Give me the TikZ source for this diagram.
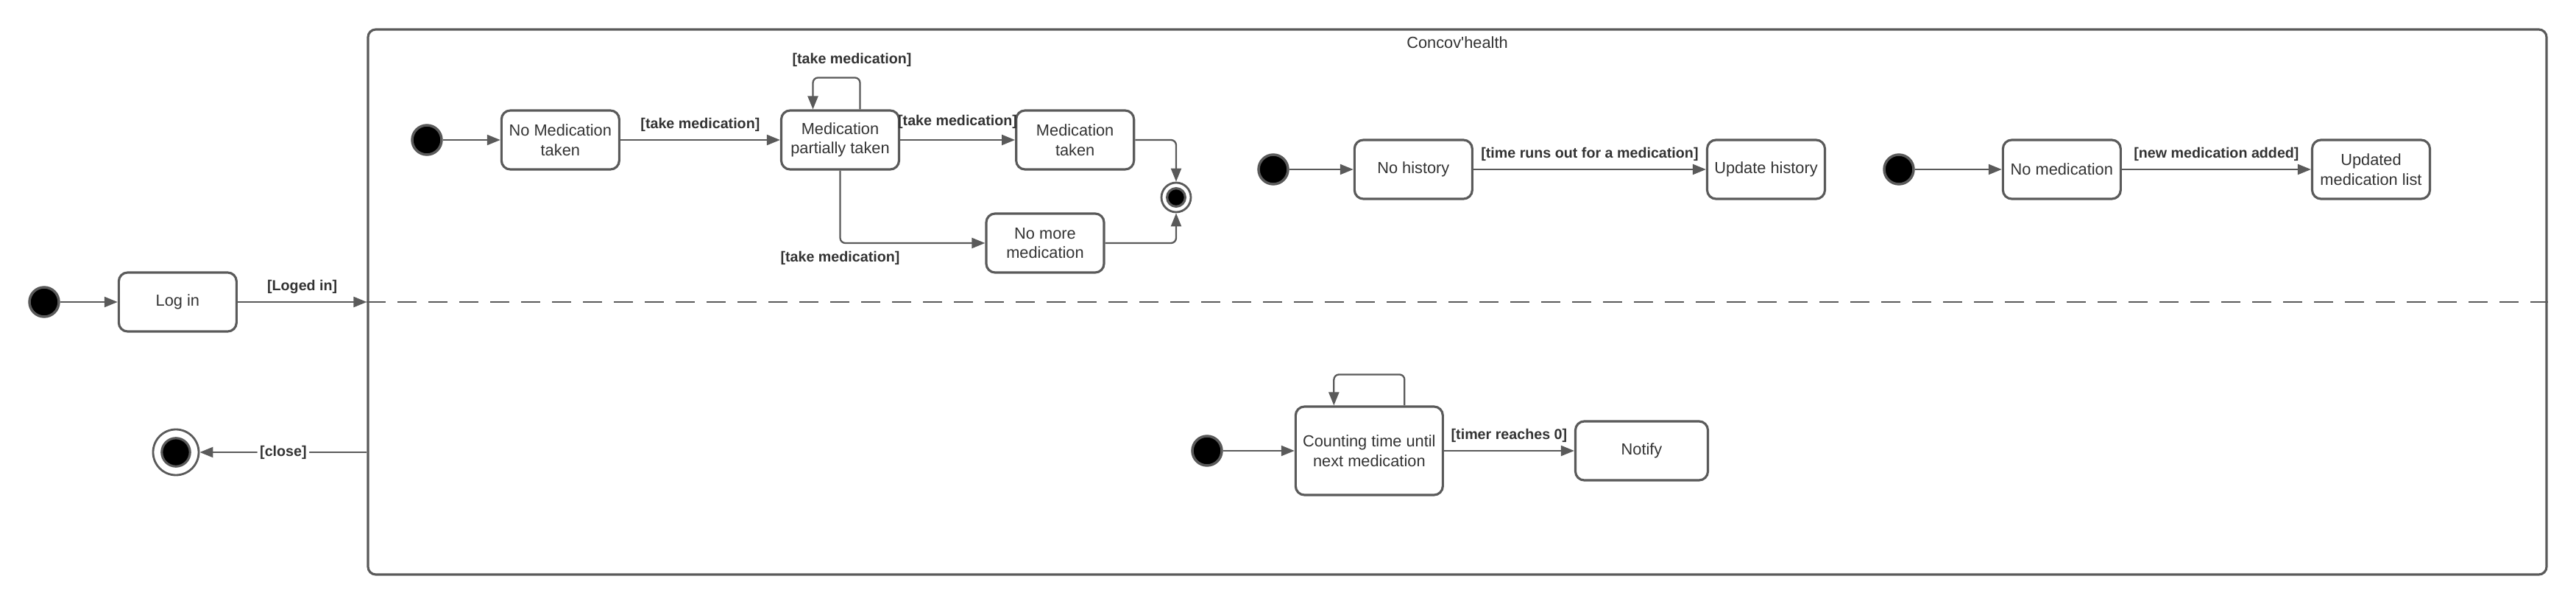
\documentclass[tikz,border=0pt]{standalone}
\usepackage{fontspec}
\setmainfont{Liberation Sans}
\usetikzlibrary{arrows.meta,positioning}
\definecolor{CHLine}{HTML}{5A5A5A}
\definecolor{CHText}{HTML}{333333}
\newcommand{\statefont}{\fontsize{6.2}{7.6}\selectfont}
\newcommand{\guardfont}{\fontsize{5.6}{6.6}\selectfont\bfseries}

\begin{document}
\begin{tikzpicture}[
  x=1cm,y=-1cm,
  state/.style={rounded corners=0.12cm,draw=CHLine,fill=white,line width=0.9pt,minimum width=1.6cm,minimum height=0.8cm,inner sep=1pt,align=center,text=CHText,font=\statefont},
  init/.style={circle,fill=black,draw=CHLine,line width=1pt,minimum size=0.4cm,inner sep=0pt},
  final/.style={circle,draw=CHLine,fill=white,line width=0.8pt,minimum size=#1,inner sep=0pt,path picture={\filldraw[fill=black,draw=CHLine,line width=0.9pt] (path picture bounding box.center) circle (0.31*#1);}},
  sysframe/.style={rounded corners=3pt,draw=CHLine,line width=0.9pt,minimum width=29.6cm,minimum height=7.4cm,inner sep=0pt},
  guard/.style={text=CHText,font=\guardfont,inner sep=1pt},
  arrow/.style={-{Triangle[length=0.18cm,width=0.14cm]},draw=CHLine,line width=0.65pt,rounded corners=2pt}
]
\useasboundingbox (0,0) rectangle (35,8.2);
\node[sysframe] (sys) at (19.8,4.1) {};
\node[font=\statefont,text=CHText] (title) at (19.8,0.58) {Concov\textquotesingle health};
\node[init] (start) at (0.6,4.1) {};
\node[state,right=0.78cm of start] (login) {Log in};
\node[final=0.62cm] (stop) at (2.39,6.14) {};
\draw[arrow] (start) -- (login);
\draw[arrow] (login) -- (login -| sys.west) node[guard,midway,above=2pt] {[Loged in]};
\draw[CHLine,line width=0.8pt,dash pattern=on 0.26cm off 0.16cm] (login -| sys.west) -- (login -| sys.east);
\draw[arrow] (sys.west |- stop) -- (stop) node[guard,midway,fill=white] {[close]};

\node[init] (i1) at (5.8,1.9) {};
\node[state,right=0.78cm of i1] (nomed) {No Medication\\taken};
\node[state,right=2.17cm of nomed] (partial) {Medication\\partially taken};
\node[state,right=1.56cm of partial] (taken) {Medication\\taken};
\node[state] (nomore) at (14.2,3.3) {No more\\medication};
\node[final=0.4cm] (f1) at (15.98,2.68) {};
\draw[arrow] (i1) -- (nomed);
\draw[arrow] (nomed) -- (partial) node[guard,midway,above=2pt] {[take medication]};
\draw[arrow] (partial) -- (taken) node[guard,midway,above=3pt] {[take medication]};
\draw[arrow] ([xshift=0.27cm]partial.north) -- ++(0,-0.43) node[guard,above=3pt,xshift=-0.11cm] {[take medication]} -| ([xshift=-0.37cm]partial.north);
\draw[arrow] (partial) |- (nomore) node[guard,pos=0.5,below=2pt] {[take medication]};
\draw[arrow] (taken) -| (f1);
\draw[arrow] (nomore) -| (f1);

\node[init] (i2) at (17.3,2.3) {};
\node[state,right=0.87cm of i2] (nohist) {No history};
\node[state,right=3.16cm of nohist] (updhist) {Update history};
\draw[arrow] (i2) -- (nohist);
\draw[arrow] (nohist) -- (updhist) node[guard,midway,above=2pt] {[time runs out for a medication]};

\node[init] (i3) at (25.8,2.3) {};
\node[state,right=1.18cm of i3] (nomedi) {No medication};
\node[state,right=2.57cm of nomedi] (updlist) {Updated\\medication list};
\draw[arrow] (i3) -- (nomedi);
\draw[arrow] (nomedi) -- (updlist) node[guard,midway,above=2pt] {[new medication added]};

\node[init] (i4) at (16.4,6.12) {};
\node[state,right=0.97cm of i4,minimum width=2cm,minimum height=1.2cm] (count) {Counting time until\\next medication};
\node[state,right=1.77cm of count,minimum width=1.8cm] (notify) {Notify};
\draw[arrow] (i4) -- (count);
\draw[arrow] (count) -- (notify) node[guard,midway,above=2pt] {[timer reaches 0]};
\draw[arrow] ([xshift=0.48cm]count.north) -- ++(0,-0.42) -| ([xshift=-0.48cm]count.north);
\end{tikzpicture}
\end{document}
